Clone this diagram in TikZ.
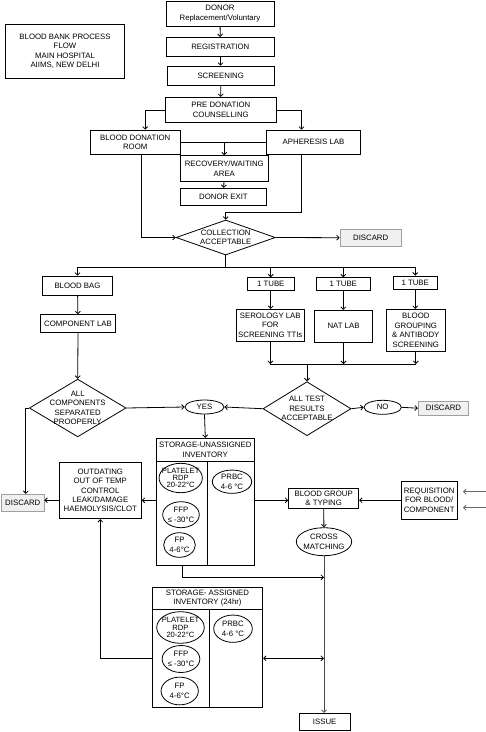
\documentclass[tikz,border=0pt]{standalone}
\usepackage{fontspec}
\setmainfont{Liberation Sans}
\usetikzlibrary{shapes.geometric,arrows.meta}

\begin{document}
\begin{tikzpicture}[x=1pt, y=-1pt, font=\fontsize{7.8}{9.4}\selectfont]
    % Define styles
    \tikzset{
        box/.style={rectangle, draw, line width=0.8pt, inner sep=0pt, align=center},
        dropbox/.style={box, fill=gray!12, draw=gray!75},
        oval/.style={ellipse, draw, line width=0.8pt, inner xsep=-5pt, inner ysep=-2pt, align=center},
        decision/.style={diamond, draw, line width=0.8pt, inner sep=-9pt, align=center},
        arrow/.style={->, >={Straight Barb[length=2.5pt,width=5pt]}, line width=0.8pt},
        twoway/.style={<->, >={Straight Barb[length=2.5pt,width=5pt]}, line width=0.8pt},
        line/.style={line width=0.8pt},
    }
    \useasboundingbox (0,0) rectangle (486,732);

    % Title
    \node[box, minimum width=119, minimum height=54] (title) at (65,51.3) {BLOOD BANK PROCESS\\FLOW\\MAIN HOSPITAL\\AIIMS, NEW DELHI};

    % Donor side
    \node[box, minimum width=108, minimum height=25] (donor) at (220,13.5) {DONOR\\Replacement/Voluntary};
    \node[box, minimum width=108, minimum height=18.7] (reg) at (220.3,46.7) {REGISTRATION};
    \node[box, minimum width=107.3, minimum height=19.3] (scr) at (220.7,75.7) {SCREENING};
    \node[box, minimum width=111, minimum height=25.4] (pre) at (220.8,110) {PRE DONATION\\COUNSELLING};
    \node[box, minimum width=89.7, minimum height=24.3] (bdr) at (135.2,142.2) {BLOOD DONATION\\ROOM};
    \node[box, minimum width=93.6, minimum height=24.3] (aph) at (313.5,142.2) {APHERESIS LAB};
    \node[box, minimum width=88, minimum height=26] (rec) at (224.3,168.7) {RECOVERY/WAITING\\AREA};
    \node[box, minimum width=86.4, minimum height=17] (exit) at (223.5,196.8) {DONOR EXIT};
    \node[decision, aspect=2.84, minimum width=99.3, minimum height=35] (coll) at (225.7,237.5) {COLLECTION\\ACCEPTABLE};
    \node[dropbox, minimum width=61.3, minimum height=16.7] (dsc0) at (370.7,237.7) {DISCARD};

    % Bag and tubes
    \node[box, minimum width=69.6, minimum height=19.3] (bag) at (77.5,285.7) {BLOOD BAG};
    \node[box, minimum width=75.4, minimum height=17.6] (comp) at (78,323.5) {COMPONENT LAB};
    \node[box, minimum width=47.7, minimum height=12.6] (tube1) at (270.8,284) {1 TUBE};
    \node[box, minimum width=54, minimum height=12.6] (tube2) at (343.3,284) {1 TUBE};
    \node[box, minimum width=43.7, minimum height=13.7] (tube3) at (415.2,282.8) {1 TUBE};
    \node[box, minimum width=68, minimum height=32] (sero) at (270.3,325.3) {SEROLOGY LAB\\FOR\\SCREENING TTIs};
    \node[box, minimum width=57.6, minimum height=32] (nat) at (343.5,326.3) {NAT LAB};
    \node[box, minimum width=59, minimum height=42] (bga) at (415.8,330.3) {BLOOD\\GROUPING\\\& ANTIBODY\\SCREENING};

    % Decisions
    \node[decision, aspect=1.68, minimum width=96.7, minimum height=57.7] (acs) at (77.7,408) {ALL\\COMPONENTS\\SEPARATED\\PROOPERLY};
    \node[oval, minimum width=39, minimum height=14] (yes) at (204.5,407) {YES};
    \node[decision, aspect=1.63, minimum width=88, minimum height=54] (atr) at (307,408.7) {ALL TEST\\RESULTS\\ACCEPTABLE};
    \node[oval, minimum width=37.3, minimum height=14] (no) at (382.7,407.3) {NO};
    \node[dropbox, minimum width=50.4, minimum height=14.3] (dsc1) at (443.5,408.2) {DISCARD};
    \node[dropbox, minimum width=42.3, minimum height=17] (dsc2) at (22.8,502.8) {DISCARD};

    % Unassigned storage
    \node[box, minimum width=98, minimum height=23.4] (su) at (205.3,450) {STORAGE-UNASSIGNED\\INVENTORY};
    \node[box, minimum width=97.7, minimum height=103.3] (sub) at (205.2,513.3) {};
    \draw[line] (207.3,461.7) -- (207.3,565);
    \node[oval, minimum width=43.3, minimum height=29.4, font=\fontsize{7.6}{7}\selectfont] (plt1) at (180.7,478) {PLATELET\\RDP\\20-22°C};
    \node[oval, minimum width=36.6, minimum height=26] (ffp1) at (181,514.7) {FFP\\≤ -30°C};
    \node[oval, minimum width=31.6, minimum height=24.6] (fp1) at (179.5,545) {FP\\4-6°C};
    \node[oval, minimum width=39.4, minimum height=23.3] (prbc1) at (232,481.7) {PRBC\\4-6 °C};

    % Issue side
    \node[box, minimum width=82, minimum height=56.4] (out) at (100.3,490.5) {OUTDATING\\OUT OF TEMP\\CONTROL\\LEAK/DAMAGE\\HAEMOLYSIS/CLOT};
    \node[box, minimum width=70, minimum height=20] (bgt) at (323.7,498.3) {BLOOD GROUP\\\& TYPING};
    \node[box, minimum width=55.7, minimum height=38] (req) at (429.2,500.3) {REQUISITION\\FOR BLOOD/\\COMPONENT};
    \node[oval, minimum width=55.4, minimum height=28] (cm) at (324,541.7) {CROSS\\MATCHING};
    \node[box, minimum width=51.3, minimum height=17] (issue) at (324.7,721.8) {ISSUE};

    % Assigned storage
    \node[box, minimum width=110.4, minimum height=22] (sa) at (207.5,598.3) {STORAGE- ASSIGNED\\INVENTORY (24hr)};
    \node[box, minimum width=110.4, minimum height=98] (sab) at (207.5,658.3) {};
    \draw[line] (209.3,609.3) -- (209.3,707.3);
    \node[oval, minimum width=47.6, minimum height=31.6, font=\fontsize{7.6}{7.4}\selectfont] (plt2) at (180.5,627.5) {PLATELET\\RDP\\20-22°C};
    \node[oval, minimum width=37.7, minimum height=27] (ffp2) at (181,659) {FFP\\≤ -30°C};
    \node[oval, minimum width=37.3, minimum height=27.7] (fp2) at (179.7,691) {FP\\4-6°C};
    \node[oval, minimum width=38.6, minimum height=27.3] (prbc2) at (233,628.7) {PRBC\\4-6 °C};

    % Junctions
    \coordinate (split) at (225.7,267.3);
    \coordinate (merge) at (307,364);
    \coordinate (row) at (0,500.3);
    \coordinate (low) at (0,577.3);
    \coordinate (in1) at (486,491.7);
    \coordinate (tip1) at (463,491.7);
    \coordinate (in2) at (486,507.7);
    \coordinate (tip2) at (463,507.7);

    % Arrows
    \draw[arrow] (donor) -- (reg);
    \draw[arrow] (reg) -- (scr);
    \draw[arrow] (scr) -- (pre);
    \draw[arrow] (pre.west) -| ([xshift=10]bdr.north);
    \draw[arrow] (pre.east) -| ([xshift=-12]aph.north);
    \draw[line] (bdr.east) -- (aph.west);
    \draw[arrow] (rec.north |- bdr.east) -- (rec.north);
    \draw[arrow] (rec) -- (exit);
    \draw[arrow] ([xshift=6.5]bdr.south) |- (coll.west);
    \draw[arrow] ([xshift=-12]aph.south) -- ++(0,58) -| (coll.north);
    \draw[arrow] (coll.east) -- (dsc0.west);

    \draw[line] (coll.south) -- (split);
    \draw[line] (bag.north |- split) -- (tube3.north |- split);
    \draw[arrow] (bag.north |- split) -- (bag.north);
    \draw[arrow] (tube1.north |- split) -- (tube1.north);
    \draw[arrow] (tube2.north |- split) -- (tube2.north);
    \draw[arrow] (tube3.north |- split) -- (tube3.north);
    \draw[arrow] (bag) -- (comp);
    \draw[arrow] (comp.south) -- (acs.north);
    \draw[arrow] (tube1.south) -- (tube1.south |- sero.north);
    \draw[arrow] (tube2.south) -- (tube2.south |- nat.north);
    \draw[arrow] (tube3.south) -- (tube3.south |- bga.north);
    \draw[arrow] (sero.south) -- (sero.south |- merge);
    \draw[arrow] (nat.south) -- (nat.south |- merge);
    \draw[arrow] (bga.south) -- (bga.south |- merge);
    \draw[line] (sero.south |- merge) -- (bga.south |- merge);
    \draw[arrow] (merge) -- (atr.north);

    \draw[arrow] (atr.west) -- (yes.east);
    \draw[arrow] (acs.east) -- (yes.west);
    \draw[arrow] (atr.east) -- (no.west);
    \draw[arrow] (no.east) -- (dsc1.west);
    \draw[arrow] (acs.west) -| ([xshift=3]dsc2.north);
    \draw[arrow] (yes.south) -- (su.north);

    \draw[arrow] (sub.west |- row) -- (out.east |- row);
    \draw[arrow] (out.west |- row) -- (dsc2.east |- row);
    \draw[arrow] (sub.east |- row) -- (bgt.west |- row);
    \draw[arrow] (req.west) -- (bgt.east |- req.west);
    \draw[arrow, black!60] (in1) -- (tip1);
    \draw[arrow, black!60] (in2) -- (tip2);
    \draw[arrow] (bgt) -- (cm);
    \draw[arrow, black!70] (cm.south) -- (cm.south |- issue.north);
    \draw[arrow] ([xshift=-22.5]sub.south) |- (cm.south |- low);
    \draw[arrow] (sab.west) -| (out.south);
    \draw[twoway] (sab.east) -- (cm.south |- sab.east);
\end{tikzpicture}
\end{document}
